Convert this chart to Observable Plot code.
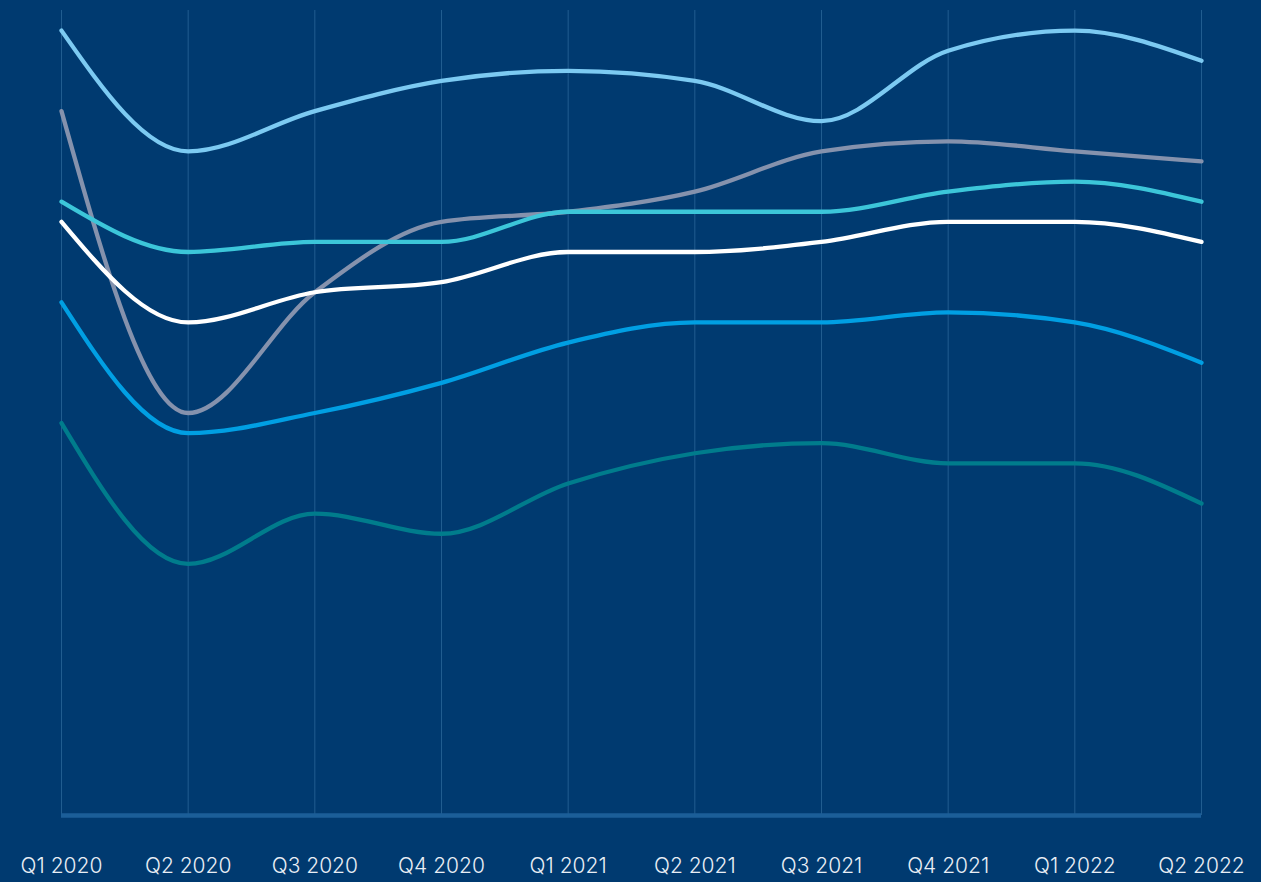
<!DOCTYPE html>
<html>
<head>
<meta charset="utf-8">
<script src="https://cdn.jsdelivr.net/npm/d3@7"></script>
<script src="https://cdn.jsdelivr.net/npm/@observablehq/plot@0.6"></script>
<style>
  html, body { margin: 0; padding: 0; background: #003a70; }
  #chart { width: 1261px; height: 882px; }
</style>
</head>
<body>
<div id="chart"></div>
<script>
const quarters = ["Q1 2020","Q2 2020","Q3 2020","Q4 2020","Q1 2021","Q2 2021","Q3 2021","Q4 2021","Q1 2022","Q2 2022"];
const seriesNames = ["A","B","C","D","E","F"];
const seriesColors = ["#7ccaf2","#8592ad","#3cc6d9","#ffffff","#009fe3","#007c8c"];
const valuesA = [78, 66, 70, 73, 74, 73, 69, 76, 78, 75];
const valuesB = [70, 40, 52, 59, 60, 62, 66, 67, 66, 65];
const valuesC = [61, 56, 57, 57, 60, 60, 60, 62, 63, 61];
const valuesD = [59, 49, 52, 53, 56, 56, 57, 59, 59, 57];
const valuesE = [51, 38, 40, 43, 47, 49, 49, 50, 49, 45];
const valuesF = [39, 25, 30, 28, 33, 36, 37, 35, 35, 31];
const allValues = [valuesA, valuesB, valuesC, valuesD, valuesE, valuesF];

const data = [];
allValues.forEach((vals, si) => {
  vals.forEach((v, i) => data.push({series: seriesNames[si], quarter: quarters[i], value: v}));
});

const chart = Plot.plot({
  width: 1261,
  height: 882,
  marginLeft: 61,
  marginRight: 60,
  marginTop: 10,
  marginBottom: 67,
  style: {background: "#003a70", color: "#e9eef5", fontFamily: "Inter, sans-serif"},
  x: {type: "point", domain: quarters, padding: 0, round: false, label: null},
  y: {domain: [0, 80], axis: null},
  color: {domain: seriesNames, range: seriesColors},
  marks: [
    Plot.ruleX(quarters, {y1: 0, y2: 80, stroke: "#215d90", strokeWidth: 1}),
    Plot.ruleY([0], {stroke: "#1b5e98", strokeWidth: 4.5}),
    Plot.line(data, {x: "quarter", y: "value", z: "series", stroke: "series", strokeWidth: 4.3, curve: "monotone-x"}),
    Plot.axisX({tickSize: 0, tickPadding: 43, fontSize: 21, fontWeight: 300, fill: "#e9eef5", label: null})
  ]
});
document.getElementById("chart").appendChild(chart);
</script>
</body>
</html>
